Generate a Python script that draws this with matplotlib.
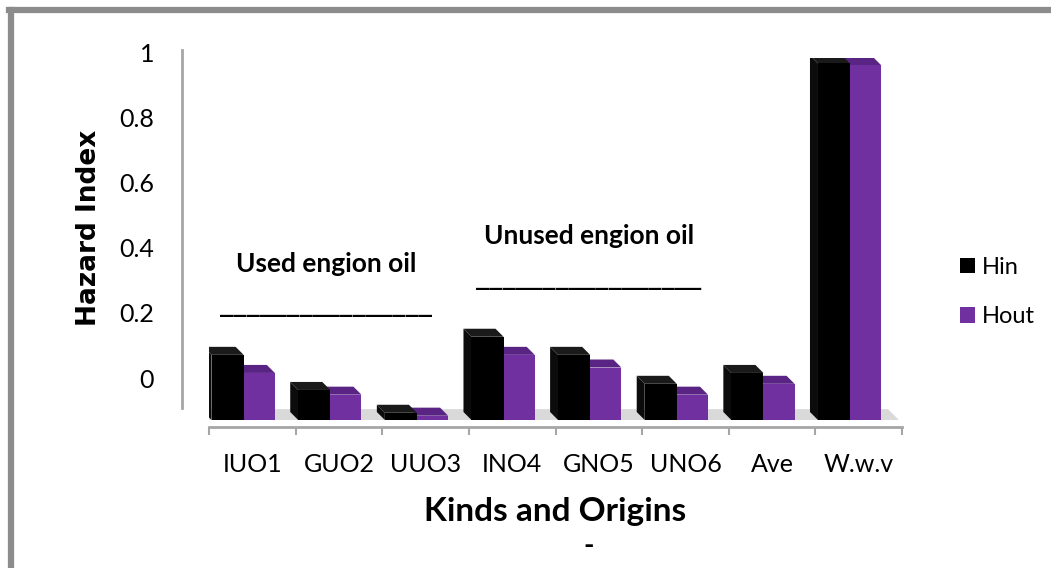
import numpy as np
import matplotlib.pyplot as plt
from matplotlib.patches import Polygon, Patch

# data
kinds = ['IUO1', 'GUO2', 'UUO3', 'INO4', 'GNO5', 'UNO6', 'Ave', 'W.w.v']
h_in = [0.18, 0.083, 0.02, 0.23, 0.18, 0.10, 0.13, 0.985]
h_out = [0.13, 0.07, 0.012, 0.18, 0.145, 0.07, 0.10, 0.98]

yticks = [0, 0.2, 0.4, 0.6, 0.8, 1]
ytick_labels = ['0', '0.2', '0.4', '0.6', '0.8', '1']

c_in, c_in_top, c_in_side = '#000000', '#1a1a1a', '#0c0c0c'
c_out, c_out_top = '#7030a0', '#5a2484'
axis_grey = '#a6a6a6'

plt.rcParams['font.family'] = ['Lato', 'DejaVu Sans']

W, H = 1051, 568
fig = plt.figure(figsize=(W / 100, H / 100), dpi=100)

# frame (top + left grey border)
fig.add_artist(plt.Line2D([11 / W, 11 / W], [0, 1 - 10 / H], color='#8c8c8c', lw=4.5,
                          transform=fig.transFigure))
fig.add_artist(plt.Line2D([9 / W, 1], [1 - 10 / H, 1 - 10 / H], color='#8c8c8c', lw=4.5,
                          transform=fig.transFigure))

# back wall axis (value axis)
axw = fig.add_axes([182 / W, (H - 408) / H, 1 / W, 358 / H])
axw.set_ylim(-30 / 326, 328 / 326)
axw.set_xlim(0, 1)
for s in ['top', 'right', 'bottom']:
    axw.spines[s].set_visible(False)
axw.spines['left'].set_color(axis_grey)
axw.spines['left'].set_linewidth(2)
axw.set_xticks([])
axw.set_yticks(yticks)
axw.set_yticklabels(ytick_labels)
axw.tick_params(axis='y', length=0, pad=20, labelsize=18)
axw.patch.set_visible(False)

# bars axes (front scale)
ax = fig.add_axes([209 / W, (H - 420) / H, 693 / W, 362 / H])
ax.set_xlim(-0.5, len(kinds) - 0.5)
ax.set_ylim(0, 1)
ax.patch.set_visible(False)
for s in ['top', 'right', 'left']:
    ax.spines[s].set_visible(False)
ax.spines['bottom'].set_position(('outward', 5))
ax.spines['bottom'].set_color(axis_grey)
ax.spines['bottom'].set_linewidth(2)
ax.set_yticks([])

x = np.arange(len(kinds))
ax.set_xticks(np.arange(-0.5, len(kinds), 1))
ax.set_xticklabels([])
ax.tick_params(axis='x', which='major', length=6, width=1.5, color=axis_grey)
ax.set_xticks(x, minor=True)
ax.set_xticklabels(kinds, minor=True)
ax.tick_params(axis='x', which='minor', length=0, pad=19, labelsize=18)

# depth offset of the 3D look (px -> data)
ddx = -8 / (693 / len(kinds))
ddy = 8 / 362

# floor
floor = Polygon([(-0.65, -0.004), (7.48, -0.004), (7.34, 0.03), (-0.80, 0.03)],
                closed=True, facecolor='#d9d9d9', edgecolor='none', zorder=1)
ax.add_patch(floor)

w_in, w_out = 0.37, 0.36
x_in = x - 0.285
x_out = x + 0.08

for i in range(len(kinds)):
    # Hout top face
    x1 = x_out[i] - w_out / 2
    x2 = x_out[i] + w_out / 2
    v = h_out[i]
    ax.add_patch(Polygon([(x1, v), (x2, v), (x2 + ddx, v + ddy), (x1 + ddx, v + ddy)],
                         facecolor=c_out_top, edgecolor='none', zorder=2))
    # Hin side + top
    x0 = x_in[i] - w_in / 2
    x1 = x_in[i] + w_in / 2
    v = h_in[i]
    ax.add_patch(Polygon([(x0, 0), (x0, v), (x0 + ddx, v + ddy), (x0 + ddx, ddy)],
                         facecolor=c_in_side, edgecolor='none', zorder=4))
    ax.add_patch(Polygon([(x0, v), (x1, v), (x1 + ddx, v + ddy), (x0 + ddx, v + ddy)],
                         facecolor=c_in_top, edgecolor='none', zorder=4))

ax.bar(x_out, h_out, w_out, color=c_out, zorder=3, label='Hout')
ax.bar(x_in, h_in, w_in, color=c_in, zorder=5, label='Hin')

# legend
handles = [Patch(facecolor=c_in, edgecolor='none'), Patch(facecolor=c_out, edgecolor='none')]
fig.legend(handles, ['Hin', 'Hout'], loc='center left', bbox_to_anchor=(960 / W, 1 - 292 / H),
           frameon=False, fontsize=17, handlelength=0.62, handleheight=0.62,
           handletextpad=0.3, labelspacing=1.2, borderpad=0, borderaxespad=0)

# annotations
fig.text(326 / W, 1 - 264 / H, 'Used engion oil', ha='center', va='center',
         fontsize=19, fontweight='bold')
fig.text(326 / W, 1 - 311 / H, '_' * 16, ha='center', va='baseline',
         fontsize=19, fontweight='bold', family='DejaVu Sans')
fig.text(589 / W, 1 - 236 / H, 'Unused engion oil', ha='center', va='center',
         fontsize=19, fontweight='bold')
fig.text(589 / W, 1 - 284 / H, '_' * 17, ha='center', va='baseline',
         fontsize=19, fontweight='bold', family='DejaVu Sans')

fig.text(555 / W, 1 - 512 / H, 'Kinds and Origins', ha='center', va='center',
         fontsize=24, fontweight='bold')
fig.text(589 / W, 1 - 546 / H, '-', ha='center', va='center',
         fontsize=20, fontweight='bold')
fig.text(89 / W, 1 - 228 / H, 'Hazard Index', ha='center', va='center', rotation=90,
         fontsize=19, fontweight='bold', family='DejaVu Sans')

fig.savefig('out.png', dpi=100)
